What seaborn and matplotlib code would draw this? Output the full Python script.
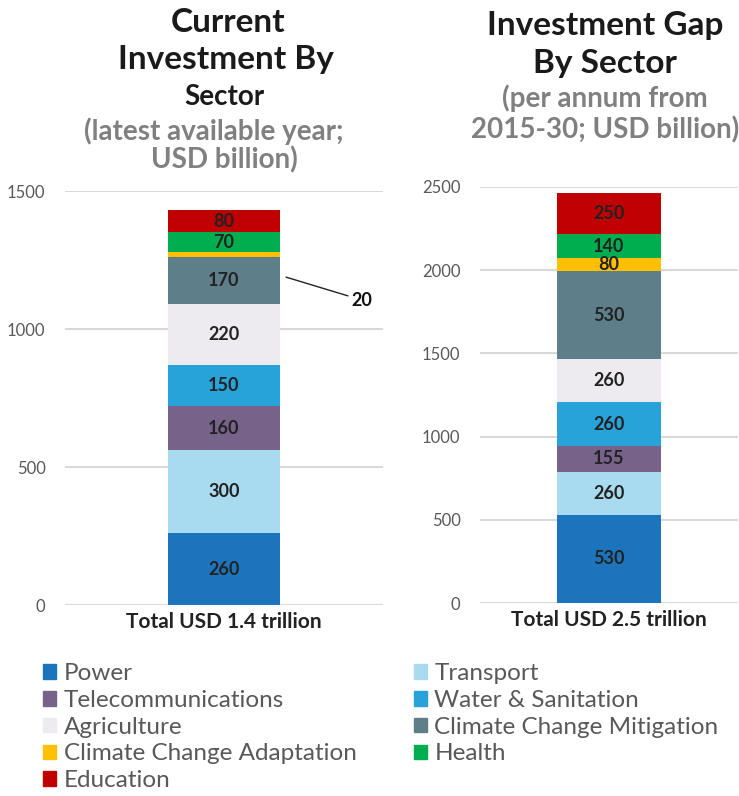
import pandas as pd
import matplotlib
matplotlib.use('Agg')
import matplotlib.pyplot as plt
import seaborn as sns

# Dados
setores = ['Power', 'Transport', 'Telecommunications', 'Water & Sanitation', 'Agriculture',
           'Climate Change Mitigation', 'Climate Change Adaptation', 'Health', 'Education']
cores = ['#1C75BC', '#A8DBF0', '#77628A', '#27A3DA', '#EDEBF0',
         '#5E7F8A', '#FFC000', '#00AD4F', '#C00000']
atual = [260, 300, 160, 150, 220, 170, 20, 70, 80]
lacuna = [530, 260, 155, 260, 260, 530, 80, 140, 250]
rotulo_atual = 'Total USD 1.4 trillion'
rotulo_lacuna = 'Total USD 2.5 trillion'
ticks_atual = [0, 500, 1000, 1500]
ticks_lacuna = [0, 500, 1000, 1500, 2000, 2500]

sns.set_style('white')
plt.rcParams['font.family'] = ['Lato', 'DejaVu Sans']

W, H = 739, 796
fig = plt.figure(figsize=(W / 100, H / 100), dpi=100)


def eixo(x0, x1, y_top, y_bot):
    return fig.add_axes([x0 / W, 1 - y_bot / H, (x1 - x0) / W, (y_bot - y_top) / H])


def barra_empilhada(ax, valores, rotulo, largura, ticks, ymax, pular=()):
    df = pd.DataFrame({'Setor': setores, 'Valor': valores, 'Cat': rotulo})
    base = 0
    for i, row in df.iterrows():
        sns.barplot(x=[row['Cat']], y=[row['Valor']], bottom=base, color=cores[i],
                    width=largura, saturation=1, ax=ax, linewidth=0)
        if row['Setor'] not in pular:
            ax.text(0, base + row['Valor'] / 2, f"{row['Valor']}", ha='center', va='center',
                    fontsize=13, fontweight='bold', color='#222222')
        base += row['Valor']
    ax.set_xlim(-0.5, 0.5)
    ax.set_ylim(0, ymax)
    ax.set_yticks(ticks)
    ax.set_yticklabels([str(t) for t in ticks], fontsize=12, color='#595959')
    ax.tick_params(axis='y', length=0, pad=14)
    ax.tick_params(axis='x', length=0, pad=5)
    for lbl in ax.get_xticklabels():
        lbl.set_fontsize(15)
        lbl.set_fontweight('bold')
        lbl.set_color('#222222')
    ax.set_xlabel('')
    ax.set_ylabel('')
    ax.yaxis.grid(True, color='#D9D9D9', linewidth=1.5)
    ax.set_axisbelow(True)
    sns.despine(ax=ax, left=True, bottom=True)


ax1 = eixo(65, 383, 191, 605)
barra_empilhada(ax1, atual, rotulo_atual, 0.355, ticks_atual, 1500,
                pular=('Climate Change Adaptation',))
# Rótulo do segmento pequeno (20)
ax1.annotate('20', xy=(0.195, 1188), xytext=(0.4, 1105), fontsize=13, fontweight='bold',
             color='#111111', ha='left', va='center',
             arrowprops=dict(arrowstyle='-', color='#222222', lw=1,
                             shrinkA=0, shrinkB=0))

ax2 = eixo(480, 738, 187, 603)
barra_empilhada(ax2, lacuna, rotulo_lacuna, 0.40, ticks_lacuna, 2500)

# Títulos
titulo = dict(ha='center', va='center', fontweight='bold', color='#1A1A1A')
sub = dict(ha='center', va='center', fontweight='bold', color='#808080')
fig.text(228 / W, 1 - 22 / H, 'Current', fontsize=24, **titulo)
fig.text(226 / W, 1 - 60 / H, 'Investment By', fontsize=24, **titulo)
fig.text(224 / W, 1 - 97 / H, 'Sector', fontsize=20, **titulo)
fig.text(214 / W, 1 - 131 / H, '(latest available year;', fontsize=20, **sub)
fig.text(224 / W, 1 - 160 / H, 'USD billion)', fontsize=20, **sub)

fig.text(605 / W, 1 - 25 / H, 'Investment Gap', fontsize=24, **titulo)
fig.text(605 / W, 1 - 63 / H, 'By Sector', fontsize=24, **titulo)
fig.text(605 / W, 1 - 98 / H, '(per annum from', fontsize=20, **sub)
fig.text(605 / W, 1 - 130 / H, '2015-30; USD billion)', fontsize=20, **sub)

# Legenda (ordem por linhas)
ordem = [0, 2, 4, 6, 8, 1, 3, 5, 7]
handles = [plt.Rectangle((0, 0), 1, 1, color=cores[i]) for i in ordem]
nomes = [setores[i] for i in ordem]
fig.legend(handles, nomes, loc='upper left', bbox_to_anchor=(43 / W, 1 - 663 / H),
           ncol=2, frameon=False, fontsize=17.5, handlelength=0.55, handleheight=0.55,
           handletextpad=0.3, columnspacing=2.35, labelspacing=0.24, labelcolor='#595959',
           borderpad=0, borderaxespad=0)

fig.savefig('out.png', dpi=100)
